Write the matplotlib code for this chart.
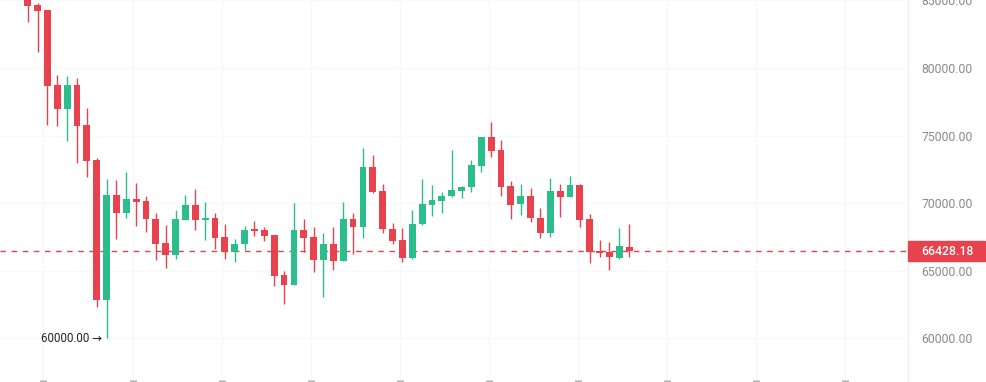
import numpy as np
import matplotlib
matplotlib.use("Agg")
import matplotlib.pyplot as plt
import matplotlib.transforms as mtransforms
from matplotlib.patches import Rectangle

# daily OHLC
opens = [85300, 84690, 84300, 78740, 76940, 78740, 75780, 73190, 62820, 70590,
         69230, 70270, 70150, 68820, 67020, 66150, 68740, 69850, 68740, 68870,
         67460, 66390, 66940, 68070, 68000, 67630, 64670, 63930, 68000, 67500,
         65780, 66960, 65730, 68820, 68240, 72690, 70890, 68050, 67260, 65900,
         68440, 69870, 70170, 70520, 70910, 71160, 72760, 74910, 73930, 71260,
         69900, 70520, 68910, 67800, 70890, 70470, 71330, 68790, 66440, 66370,
         65900, 66760]
highs = [85500, 84790, 84300, 79480, 79410, 79240, 77020, 73360, 71780, 71700,
         72270, 71460, 70520, 69230, 68370, 69480, 70590, 71020, 70100, 69240,
         68440, 67310, 68300, 68690, 68200, 67630, 64990, 69980, 68820, 68240,
         67760, 68200, 70100, 69280, 74050, 73560, 71410, 68540, 68170, 69480,
         71760, 71330, 70790, 73930, 71280, 73190, 74910, 76020, 74670, 71650,
         71390, 71090, 69610, 71830, 71410, 72000, 71410, 69190, 67260, 67130,
         68130, 68440]
lows = [83430, 81210, 75780, 75700, 74620, 72990, 71950, 62320, 60000, 67310,
        68870, 68320, 67830, 65780, 65160, 65850, 68740, 68000, 67280, 66570,
        65870, 65650, 66520, 67560, 67190, 63850, 62500, 63930, 66390, 64910,
        63020, 65040, 65730, 66200, 67430, 70720, 67800, 66940, 65610, 65830,
        68370, 69040, 69240, 70470, 70350, 70840, 72320, 73430, 70520, 68790,
        69110, 68570, 67390, 67500, 68940, 70470, 68200, 65530, 65980, 65040,
        65830, 65980]
closes = [84620, 84240, 78690, 76940, 78740, 75700, 73130, 62820, 70590, 69230,
          70300, 70100, 68790, 66960, 66150, 68820, 69850, 68740, 68870, 67430,
          66390, 66960, 68000, 67950, 67580, 64590, 63930, 68000, 67430, 65780,
          66960, 65730, 68790, 68240, 72690, 70840, 68050, 67210, 65900, 68440,
          69930, 70220, 70520, 70960, 71160, 72820, 74910, 73870, 71210, 69850,
          70520, 68870, 67800, 70890, 70470, 71330, 68740, 66390, 66320, 65980,
          66820, 66428.18]
price_ticks = [60000, 65000, 70000, 75000, 80000, 85000]

UP = "#2cbd8c"
DOWN = "#e8424f"

o = np.array(opens, dtype=float)
h = np.array(highs, dtype=float)
l = np.array(lows, dtype=float)
c = np.array(closes, dtype=float)
x = np.arange(len(o))
cols = np.where(c >= o, UP, DOWN)

plt.rcParams["font.family"] = ["Roboto", "DejaVu Sans"]

fig = plt.figure(figsize=(9.87, 3.82), dpi=100)
ax = fig.add_axes([0, 0, 908 / 987, 1])

# grid (very faint)
for gx in np.arange(10) * 9.03 + 1.6:
    ax.axvline(gx, color="#f7f7f7", lw=1, zorder=0)
for p in price_ticks:
    ax.axhline(p, color="#f9f9f9", lw=1, zorder=0)

# candles
ax.vlines(x, l, h, colors=cols, lw=1.0, zorder=2)
body = np.maximum(np.abs(c - o), 90)
ax.bar(x, body, bottom=np.minimum(o, c), width=0.69, color=cols, zorder=3)

# last price line + label
last = c[-1]
ax.axhline(last, color=DOWN, lw=1.0, ls=(0, (4, 4)), zorder=1)
trans = mtransforms.blended_transform_factory(ax.transAxes, ax.transData)
ax.add_patch(Rectangle((1.0, last - 740), 77 / 908, 1480, transform=trans,
                       color=DOWN, clip_on=False, zorder=5))
ax.text(1 + 13 / 908, last, f"{last:.2f}", transform=trans, color="white",
        fontsize=8.8, fontweight="medium", va="center", ha="left", zorder=6)

# lowest point annotation
imin = int(np.argmin(l))
ax.text(imin - 0.45, l[imin], f"{l[imin]:.2f} \u2192", ha="right", va="center",
        fontsize=8.3, color="#222222")

ax.set_xlim(-27.7 / 9.86, (908 - 27.7) / 9.86)
ax.set_ylim(56741, 85037)

ax.yaxis.tick_right()
ax.set_yticks(price_ticks)
ax.set_yticklabels([f"{p:.2f}" for p in price_ticks])
ax.tick_params(axis="y", length=0, pad=9.4, labelsize=8.8, labelcolor="#8a8a8a")
ax.set_xticks(np.arange(10) * 9.03 + 1.6)
ax.set_xticklabels([])
ax.tick_params(axis="x", direction="in", length=1.5, width=5, color="#b0b0b0")

for s in ["top", "left", "bottom"]:
    ax.spines[s].set_visible(False)
ax.spines["right"].set_color("#ececec")

fig.savefig("out.png", dpi=100)
